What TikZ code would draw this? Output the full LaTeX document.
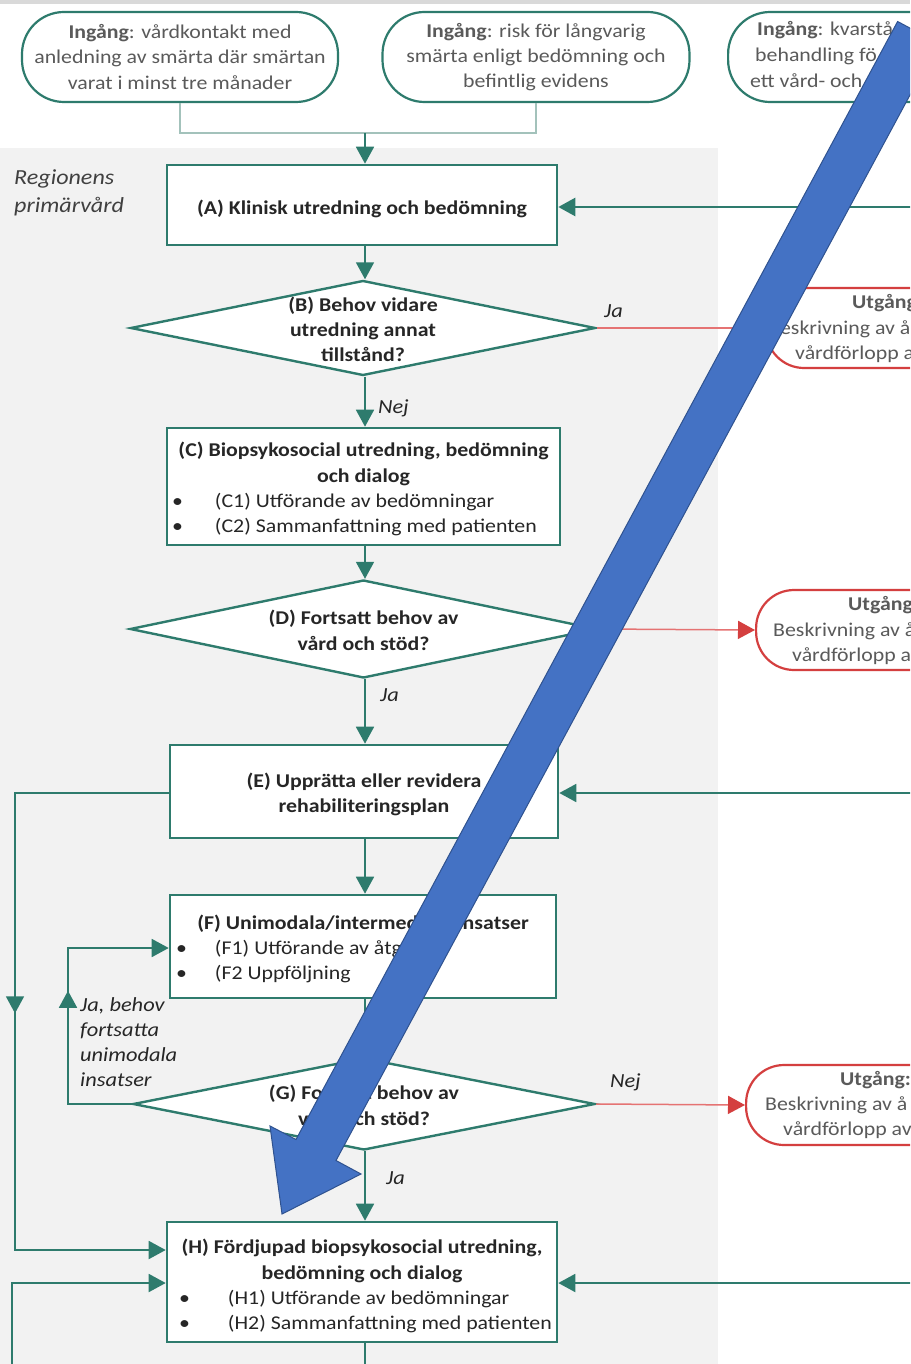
\documentclass[tikz,border=0pt]{standalone}
\usepackage{fontspec}
\setmainfont{Carlito}[FakeStretch=1.12]
\usetikzlibrary{arrows.meta,shapes.geometric,decorations.markings,calc}
\definecolor{tealA}{HTML}{2E7B6D}
\definecolor{tealL}{HTML}{A3C2BB}
\definecolor{redL}{HTML}{E57373}
\definecolor{redD}{HTML}{D43F3F}
\definecolor{laneC}{HTML}{F2F2F2}
\definecolor{txtC}{HTML}{262626}
\definecolor{gtxt}{HTML}{5A5A5A}
\definecolor{blueA}{HTML}{4472C4}
\definecolor{blueB}{HTML}{2F528F}
\newcommand{\bulletline}[4]{\makebox[#1][l]{\hspace{#2}\makebox[#3][l]{\textbullet}#4}}
\newcommand{\dtext}[1]{\makebox[0pt]{\smash{\raisebox{-8.5pt}{\begin{tabular}{@{}c@{}}#1\end{tabular}}}}}
\newcommand{\topfix}[1]{\rule{0pt}{#1}}
\begin{document}
\begin{tikzpicture}[x=1pt,y=-1pt,
 box/.style={draw=tealA, line width=2.6pt, fill=white, align=center, inner sep=0pt, text=txtC, font=\fontsize{19.5}{25.3}\selectfont},
 dia/.style={diamond, draw=tealA, line width=2.4pt, fill=white, inner sep=0pt, text=txtC, font=\fontsize{19.5}{25.3}\selectfont\bfseries},
 ing/.style={draw=tealA, line width=2.2pt, rounded corners=42pt, fill=white, align=center, text=gtxt, font=\fontsize{19.5}{25.3}\selectfont, minimum height=90pt},
 utg/.style={draw=redD, line width=2.2pt, rounded corners=38pt, fill=white, minimum height=80pt},
 utxt/.style={anchor=west, inner sep=0pt, text=gtxt, font=\fontsize{19.5}{22}\selectfont},
 conn/.style={draw=tealA, line width=1.8pt},
 arr/.style={conn, -{Triangle[width=18pt,length=17pt]}},
 rarr/.style={draw=redL, line width=1.5pt, -{Triangle[width=18pt,length=17pt,color=redD]}},
 lbl/.style={inner sep=0pt, text=txtC, font=\fontsize{20}{25}\selectfont\itshape},
 midarr/.style={postaction={decorate}, decoration={markings, mark=at position #1 with {\arrow{Triangle[width=18pt,length=17pt]}}}},
]
\path[use as bounding box] (0,0) rectangle (910,1364);
\clip (0,0) rectangle (910,1364);
\fill[white] (0,0) rectangle (910,1364);
\fill[laneC] (0,148) rectangle (718,1364);
\fill[black!15] (0,0) rectangle (910,4);

\node[anchor=west, align=left, inner sep=0pt, text=black!75, font=\fontsize{21.5}{28}\selectfont\itshape] (lane) at (14,193) {Regionens\\primärvård};

% entry nodes
\node[ing, minimum width=316pt] (i1) at (180,57) {\textbf{Ingång}: vårdkontakt med\\anledning av smärta där smärtan\\varat i minst tre månader};
\node[ing, minimum width=307pt] (i2) at (536,57) {\textbf{Ingång}: risk för långvarig\\smärta enligt bedömning och\\befintlig evidens};
\node[ing, minimum width=320pt, anchor=west] (i3) at (727,57) {};
\node[utxt] (i3a) at (757,30) {\textbf{Ingång}: kvarstå};
\node[utxt] (i3b) at (755,56) {behandling fö};
\node[utxt] (i3c) at (750,81) {ett vård- och};

% main chain
\node[box, minimum width=390pt, minimum height=80pt] (A) at (362,205) {\topfix{21.5pt}\bfseries (A) Klinisk utredning och bedömning};
\node[dia, minimum width=465pt, minimum height=95pt] (B) at (363,328) {\dtext{(B) Behov vidare\\utredning annat\\tillstånd?}};
\node[box, minimum width=393pt, minimum height=117pt] (C) at (363.5,486.5) {\topfix{20pt}\textbf{(C) Biopsykosocial utredning, bedömning}\\\textbf{och dialog}\\\bulletline{393pt}{5pt}{43pt}{(C1) Utförande av bedömningar}\\\bulletline{393pt}{5pt}{43pt}{(C2) Sammanfattning med patienten}};
\node[dia, minimum width=467pt, minimum height=98pt] (D) at (363.5,629) {\dtext{(D) Fortsatt behov av\\vård och stöd?}};
\node[box, minimum width=388pt, minimum height=93pt] (E) at (364,791.5) {\topfix{20pt}\bfseries (E) Upprätta eller revidera\\\bfseries rehabiliteringsplan};
\node[box, minimum width=386pt, minimum height=103pt] (F) at (363,946.5) {\topfix{19pt}\textbf{(F) Unimodala/intermediära insatser}\\\bulletline{386pt}{6pt}{39pt}{(F1) Utförande av åtgärder}\\\bulletline{386pt}{6pt}{39pt}{(F2 Uppföljning}};
\node[dia, minimum width=462pt, minimum height=92pt] (G) at (364,1104) {\dtext{(G) Fortsatt behov av\\vård och stöd?}};
\node[box, minimum width=390pt, minimum height=120pt] (H) at (362,1282) {\topfix{23pt}\textbf{(H) Fördjupad biopsykosocial utredning,}\\\textbf{bedömning och dialog}\\\bulletline{390pt}{12pt}{49pt}{(H1) Utförande av bedömningar}\\\bulletline{390pt}{12pt}{49pt}{(H2) Sammanfattning med patienten}};

% exit nodes
\node[utg, minimum width=320pt, anchor=west] (u1) at (765,328) {};
\node[utxt] (u1a) at (852,303) {\bfseries Utgång:};
\node[utxt] (u1b) at (768,329) {Beskrivning av å};
\node[utxt] (u1c) at (795,354) {vårdförlopp av};
\node[utg, minimum width=320pt, anchor=west] (u2) at (755,630) {};
\node[utxt] (u2a) at (848,605) {\bfseries Utgång:};
\node[utxt] (u2b) at (773,631) {Beskrivning av å};
\node[utxt] (u2c) at (792,656) {vårdförlopp av};
\node[utg, minimum width=320pt, anchor=west] (u3) at (745,1105) {};
\node[utxt] (u3a) at (840,1080) {\bfseries Utgång:};
\node[utxt] (u3b) at (765,1105) {Beskrivning av å};
\node[utxt] (u3c) at (783,1130) {vårdförlopp av};

% labels
\node[lbl, anchor=west] (lB) at (604,311) {Ja};
\node[lbl, anchor=west] (lC) at (378,408) {Nej};
\node[lbl, anchor=west] (lE) at (380,695) {Ja};
\node[lbl, anchor=west] (lG) at (610,1082) {Nej};
\node[lbl, anchor=west] (lH) at (386,1178) {Ja};
\node[lbl, anchor=west, align=left] (lF) at (80,1042) {Ja, behov\\fortsatta\\unimodala\\insatser};

% connectors
\coordinate (jm) at (365,133);
\draw[draw=tealL, line width=1.8pt] (i1.south) -- (i1.south |- jm) -- (i2.south |- jm) -- (i2.south);
\draw[arr] (jm) -- (jm |- A.north);
\coordinate (eA) at (912,207);
\draw[arr, line width=2.6pt] (eA) -- (eA -| A.east);
\draw[arr] (A.south -| jm) -- (B.north -| jm);
\draw[rarr] (B.east) -- (u1.west);
\draw[arr] (B.south -| jm) -- (C.north -| jm);
\draw[arr] (C.south -| jm) -- (D.north -| jm);
\draw[rarr] (D.east) -- (u2.west);
\draw[arr] (D.south -| jm) -- (E.north -| jm);
\coordinate (eE) at (912,793);
\draw[arr] (eE) -- (eE -| E.east);
\draw[arr] (E.south -| jm) -- (F.north -| jm);
\draw[arr] (F.south -| jm) -- (G.north -| jm);
\draw[rarr] (G.east) -- (u3.west);
\draw[arr] (G.south -| jm) -- (H.north -| jm);
\coordinate (l1) at (15,793);
\coordinate (l2) at (15,1250);
\draw[arr, midarr=374pt] (l1 -| E.west) -- (l1) -- (l2) -- (l2 -| H.west);
\coordinate (k1) at (68,1104);
\coordinate (k2) at (68,948);
\draw[arr, midarr=177pt] (G.west) -- (k1) -- (k2) -- (k2 -| F.west);
\coordinate (b0) at (12,1366);
\coordinate (b1) at (12,1283);
\draw[arr] (b0) -- (b1) -- (b1 -| H.west);
\coordinate (eH) at (912,1283);
\draw[arr] (eH) -- (eH -| H.east);
\coordinate (hb) at (365,1366);
\draw[conn] (H.south -| jm) -- (hb);

% big blue arrow overlay
\filldraw[fill=blueA, draw=blueB, line width=1pt, line join=miter] (897.6,21.5) -- (938,43) -- (336,1160.5) -- (361,1174) -- (282,1214) -- (270,1126) -- (296,1139.5) -- cycle;
\end{tikzpicture}
\end{document}
